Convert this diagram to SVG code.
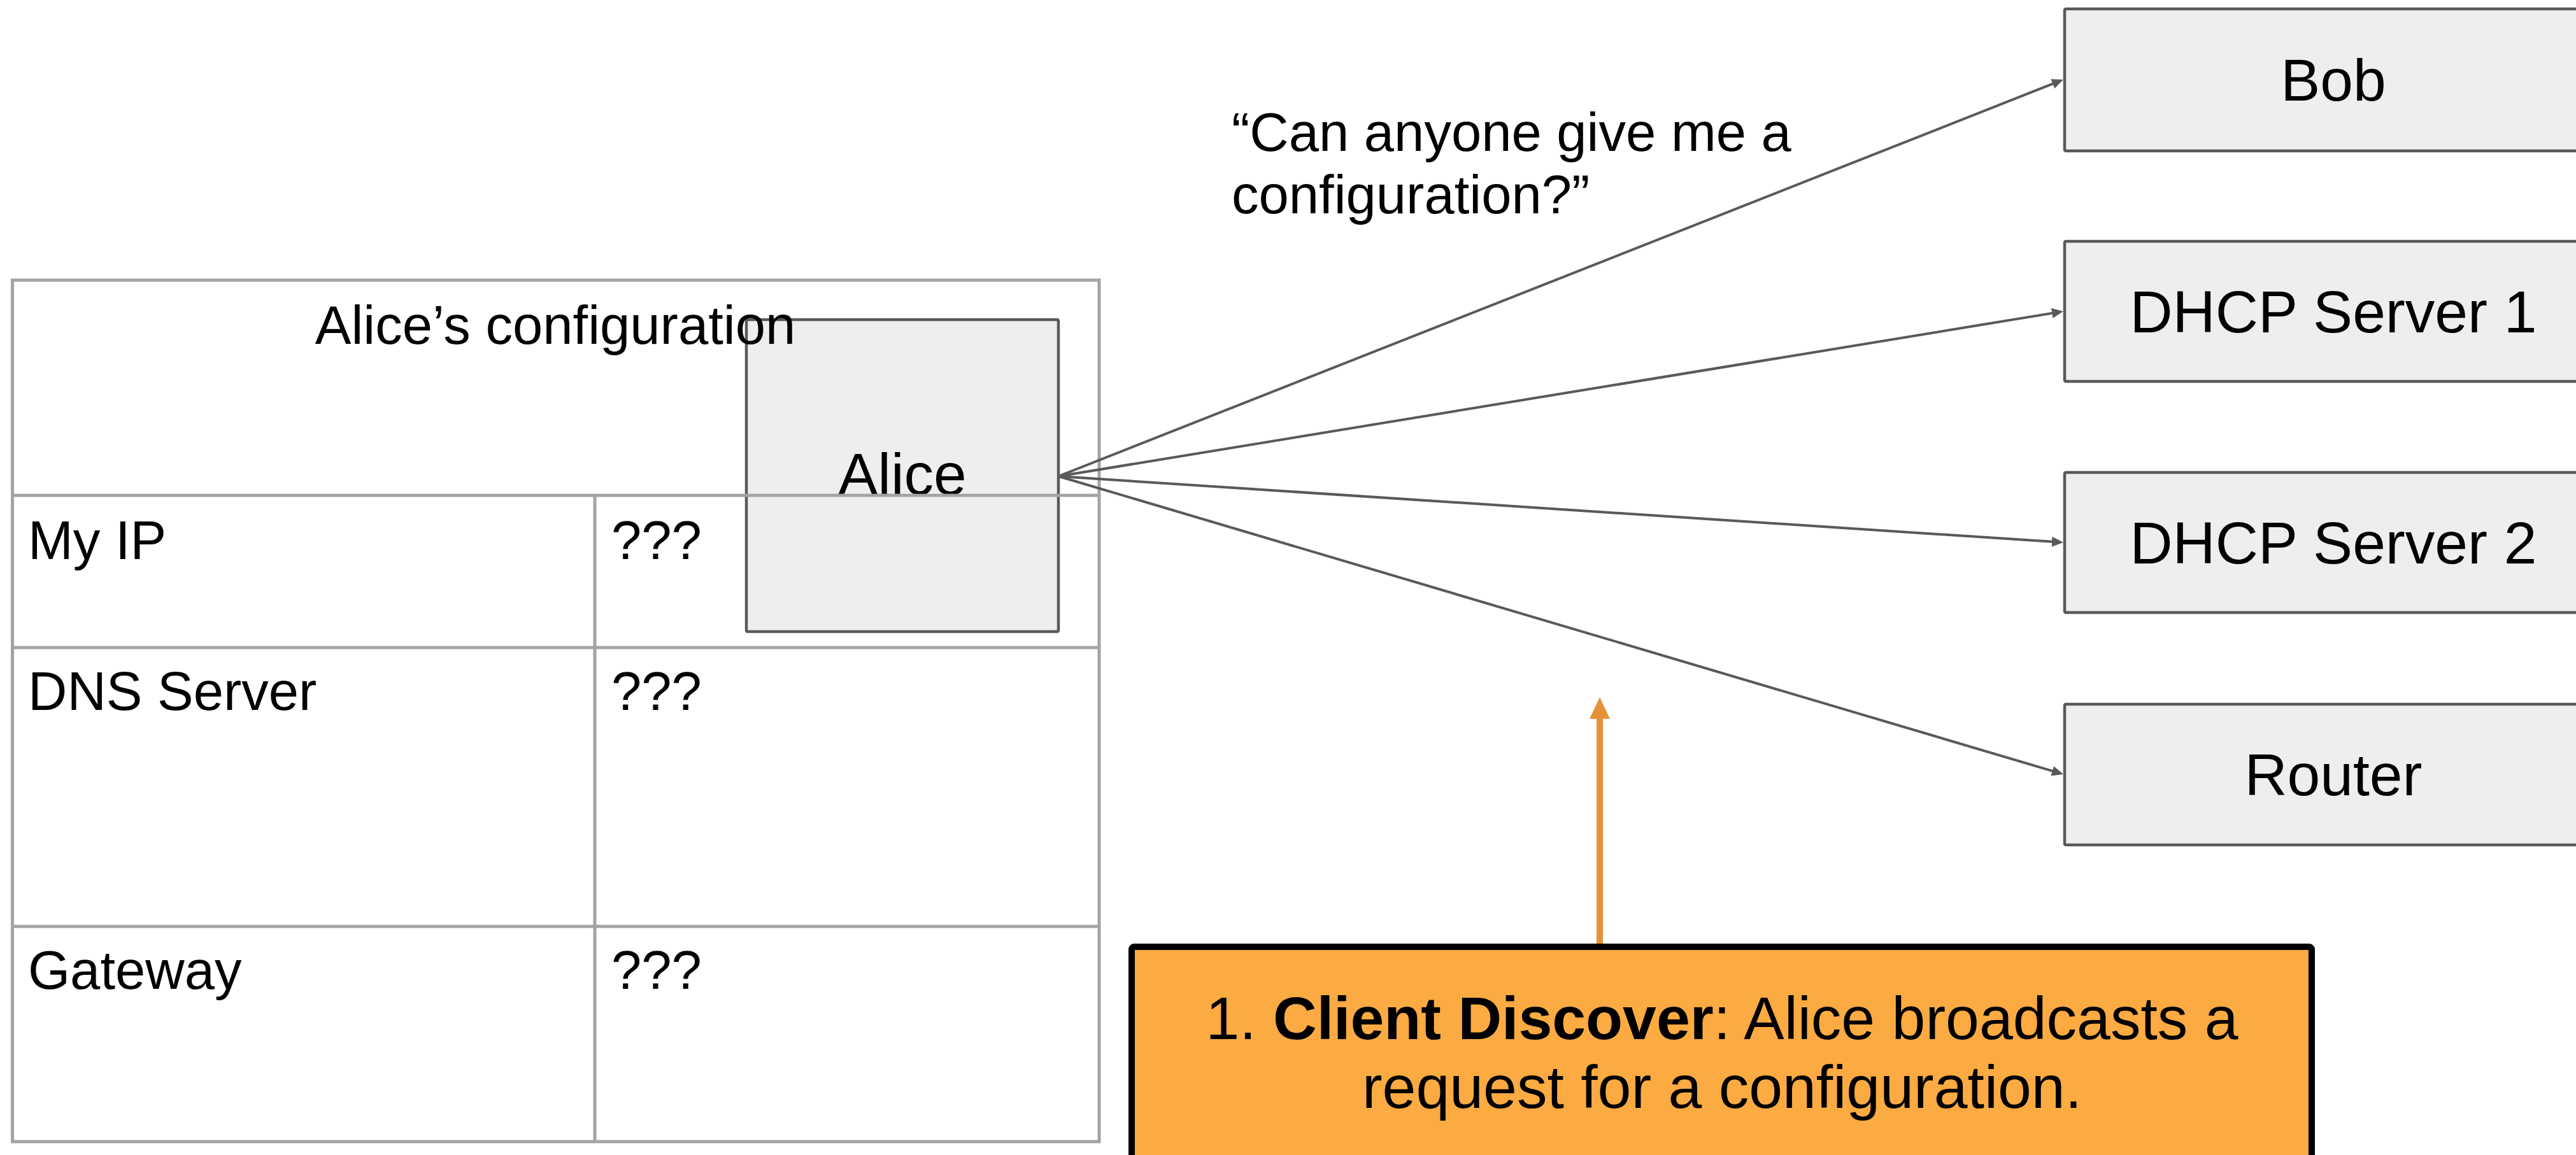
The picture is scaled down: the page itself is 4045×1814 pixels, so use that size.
<svg xmlns="http://www.w3.org/2000/svg" width="4045" height="1814" viewBox="0 0 4045 1814">
  <style>
    text { font-family: "Liberation Sans", Arial, sans-serif; fill: #000000; }
    .node { fill: #eeeeee; stroke: #595959; stroke-width: 4.5; }
    .label { font-size: 93px; text-anchor: middle; }
    .cell { font-size: 85px; }
    .grid { fill: none; stroke: #a3a3a3; stroke-width: 5; }
    .wire { stroke: #595959; stroke-width: 4; fill: none; marker-end: url(#arrow-gray); }
    .pointer { stroke: #e69138; stroke-width: 10; fill: none; marker-end: url(#arrow-orange); }
    .note { fill: #fcaa42; stroke: #000000; stroke-width: 10; }
    .note-text { font-size: 95px; text-anchor: middle; }
  </style>
  <defs>
    <marker id="arrow-gray" markerUnits="userSpaceOnUse" viewBox="0 0 18 16" markerWidth="18" markerHeight="16" refX="8" refY="8" orient="auto">
      <path d="M0,0 L18,8 L0,16 z" fill="#595959"/>
    </marker>
    <marker id="arrow-orange" markerUnits="userSpaceOnUse" viewBox="0 0 34 32" markerWidth="34" markerHeight="32" refX="2" refY="16" orient="auto">
      <path d="M0,0 L34,16 L0,32 z" fill="#e69138"/>
    </marker>
  </defs>

  <rect width="4045" height="1814" fill="#ffffff"/>

  <!-- Alice -->
  <g id="alice">
    <rect class="node" x="1172" y="502" width="490" height="490" rx="2"/>
    <text class="label" x="1417" y="777">Alice</text>
  </g>

  <!-- Alice's configuration table -->
  <g id="config-table">
    <rect class="grid" x="19.5" y="440" width="1706.5" height="1353"/>
    <line class="grid" x1="19.5" y1="778" x2="1726" y2="778"/>
    <line class="grid" x1="19.5" y1="1017" x2="1726" y2="1017"/>
    <line class="grid" x1="19.5" y1="1455" x2="1726" y2="1455"/>
    <line class="grid" x1="934" y1="778" x2="934" y2="1793"/>
    <text class="cell" x="872" y="540" text-anchor="middle">Alice’s configuration</text>
    <text class="cell" x="44" y="878">My IP</text>
    <text class="cell" x="960" y="878">???</text>
    <text class="cell" x="44" y="1115">DNS Server</text>
    <text class="cell" x="960" y="1115">???</text>
    <text class="cell" x="44" y="1553">Gateway</text>
    <text class="cell" x="960" y="1553">???</text>
  </g>

  <!-- Broadcast connectors -->
  <g id="connectors">
    <line class="wire" x1="1662" y1="748" x2="3230.7" y2="128.7"/>
    <line class="wire" x1="1662" y1="748" x2="3230.1" y2="490.6"/>
    <line class="wire" x1="1662" y1="748" x2="3230.0" y2="851.3"/>
    <line class="wire" x1="1662" y1="748" x2="3230.4" y2="1213.2"/>
    <line class="pointer" x1="2512" y1="1482" x2="2512" y2="1127"/>
  </g>

  <g id="broadcast-caption">
    <text class="cell" x="1934" y="237">“Can anyone give me a</text>
    <text class="cell" x="1934" y="335">configuration?”</text>
  </g>

  <g id="bob">
    <rect class="node" x="3242" y="14" width="844" height="223" rx="2"/>
    <text class="label" x="3664" y="158">Bob</text>
  </g>
  <g id="dhcp-server-1">
    <rect class="node" x="3242" y="379" width="844" height="220" rx="2"/>
    <text class="label" x="3664" y="522">DHCP Server 1</text>
  </g>
  <g id="dhcp-server-2">
    <rect class="node" x="3242" y="742" width="844" height="220" rx="2"/>
    <text class="label" x="3664" y="885">DHCP Server 2</text>
  </g>
  <g id="router">
    <rect class="node" x="3242" y="1106" width="844" height="221" rx="2"/>
    <text class="label" x="3664" y="1249">Router</text>
  </g>

  <!-- Step description -->
  <g id="step-note">
    <rect class="note" x="1777" y="1487" width="1853" height="400" rx="4"/>
    <text class="note-text" x="2704" y="1632">1. <tspan font-weight="bold">Client Discover</tspan>: Alice broadcasts a</text>
    <text class="note-text" x="2704" y="1740">request for a configuration.</text>
  </g>
</svg>
